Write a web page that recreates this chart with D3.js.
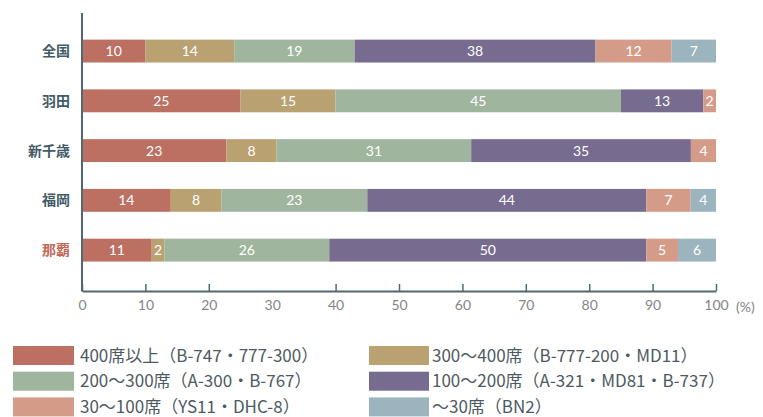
<!DOCTYPE html>
<html>
<head>
<meta charset="utf-8">
<script src="https://cdn.jsdelivr.net/npm/d3@7"></script>
<style>
  html, body { margin: 0; padding: 0; background: #ffffff; }
  svg { display: block; }
</style>
</head>
<body>
<svg id="chart" width="763" height="417"></svg>
<script>
// Airports (rows) and seat-class shares (%) per airport
const airports = ["全国", "羽田", "新千歳", "福岡", "那覇"];
const seatClasses = [
  "400席以上（B-747・777-300）",
  "300～400席（B-777-200・MD11）",
  "200～300席（A-300・B-767）",
  "100～200席（A-321・MD81・B-737）",
  "30～100席（YS11・DHC-8）",
  "～30席（BN2）"
];
const share400 = [10, 25, 23, 14, 11];
const share300 = [14, 15, 8, 8, 2];
const share200 = [19, 45, 31, 23, 26];
const share100 = [38, 13, 35, 44, 50];
const share30  = [12, 2, 4, 7, 5];
const shareLt30 = [7, 0, 0, 4, 6];
const xTicks = [0, 10, 20, 30, 40, 50, 60, 70, 80, 90, 100];
const colors = ["#bb7062", "#b9a172", "#9fb59d", "#776b8f", "#d49c88", "#9bb4be"];

const seriesArrays = [share400, share300, share200, share100, share30, shareLt30];
const keys = seatClasses.map((d, i) => "s" + i);
const rows = airports.map((a, r) => {
  const o = { airport: a };
  keys.forEach((k, i) => o[k] = seriesArrays[i][r]);
  return o;
});

const svg = d3.select("#chart");
const axisColor = "#4f6873";

// Each row is normalised so the stack fills 0–100 %
const stack = d3.stack().keys(keys).offset(d3.stackOffsetExpand);
const layers = stack(rows);

const x = d3.scaleLinear().domain([0, 1]).range([82, 716]);
const y = d3.scaleBand().domain(airports).range([26.2, 275]).paddingInner(0.54).paddingOuter(0.27);

// Bars
const g = svg.append("g");
layers.forEach((layer, li) => {
  const lg = g.append("g");
  lg.selectAll("rect").data(layer).join("rect")
    .attr("x", d => x(d[0]))
    .attr("y", d => y(d.data.airport))
    .attr("width", d => Math.max(0, x(d[1]) - x(d[0])))
    .attr("height", y.bandwidth())
    .attr("fill", colors[li]);
  lg.selectAll("text").data(layer.filter(d => d.data[layer.key] > 0)).join("text")
    .attr("x", d => (x(d[0]) + x(d[1])) / 2)
    .attr("y", d => y(d.data.airport) + y.bandwidth() / 2)
    .attr("dy", "0.36em")
    .attr("text-anchor", "middle")
    .attr("fill", "#ffffff")
    .style("font-family", "Lato, 'Open Sans', sans-serif")
    .style("font-size", "14px")
    .text(d => d.data[layer.key]);
});

// Category labels
svg.append("g").selectAll("text").data(airports).join("text")
  .attr("x", 70)
  .attr("y", d => y(d) + y.bandwidth() / 2)
  .attr("dy", "0.36em")
  .attr("text-anchor", "end")
  .attr("fill", d => d === "那覇" ? "#c26a5c" : "#435b66")
  .style("font-family", "'Noto Sans CJK JP', sans-serif")
  .style("font-weight", "700")
  .style("font-size", "14px")
  .text(d => d);

// Vertical axis line
svg.append("line")
  .attr("x1", 82).attr("x2", 82).attr("y1", 13).attr("y2", 291.5)
  .attr("stroke", axisColor).attr("stroke-width", 2);

// Bottom axis with upward ticks
const xAxis = d3.axisBottom(x)
  .tickValues(xTicks.map(v => v / 100))
  .tickFormat(d => Math.round(d * 100))
  .tickSizeInner(-7).tickSizeOuter(0).tickPadding(9);
const ax = svg.append("g").attr("transform", "translate(0,291)").call(xAxis);
ax.select(".domain").attr("stroke", axisColor).attr("stroke-width", 2);
ax.selectAll(".tick line").attr("stroke", axisColor).attr("stroke-width", 1.5);
ax.selectAll(".tick").filter(d => Math.round(d * 100) === 30).select("line").remove();
ax.selectAll(".tick text")
  .attr("fill", "#858585")
  .style("font-family", "Lato, 'Open Sans', sans-serif")
  .style("font-size", "14px");
svg.append("text")
  .attr("x", 736).attr("y", 291 + 16).attr("dy", "0.36em")
  .attr("fill", "#858585")
  .style("font-family", "Lato, 'Open Sans', sans-serif")
  .style("font-size", "14px")
  .text("(%)");

// Legend: two columns, filled row by row
const legend = svg.append("g");
const legendItems = seatClasses.map((label, i) => ({ label, color: colors[i], col: i % 2, row: Math.floor(i / 2) }));
const colX = [13, 369];
const lg = legend.selectAll("g").data(legendItems).join("g")
  .attr("transform", d => `translate(${colX[d.col]},${346 + d.row * 25.7})`);
lg.append("rect")
  .attr("width", d => d.col === 0 ? 61 : 60)
  .attr("height", 19)
  .attr("fill", d => d.color);
lg.append("text")
  .attr("x", d => d.col === 0 ? 67 : 63)
  .attr("y", 9.5)
  .attr("dy", "0.36em")
  .attr("fill", "#4d5a61")
  .style("font-family", "'Noto Sans CJK JP', sans-serif")
  .style("font-size", "17px")
  .text(d => d.label);
</script>
</body>
</html>
